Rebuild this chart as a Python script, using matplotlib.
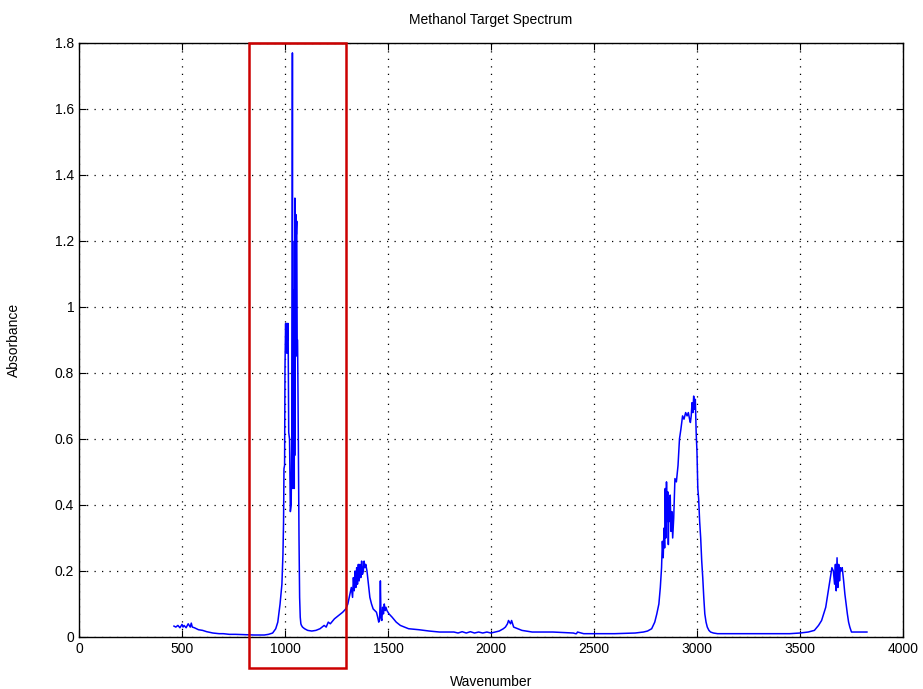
import numpy as np
import matplotlib.pyplot as plt
from matplotlib.patches import Rectangle

# Spectrum, region by region: (wavenumber, absorbance)
low_region = [
    (461, 0.033), (470, 0.030), (480, 0.035), (490, 0.028), (500, 0.038),
    (505, 0.030), (510, 0.035), (520, 0.028), (530, 0.040), (540, 0.030),
    (545, 0.042), (550, 0.030), (560, 0.028), (570, 0.025), (580, 0.022),
    (600, 0.020), (620, 0.016), (650, 0.012), (680, 0.010), (700, 0.010),
    (730, 0.008), (760, 0.008), (800, 0.007), (850, 0.006), (880, 0.006),
    (900, 0.006), (920, 0.008), (940, 0.012),
]
co_stretch = [
    (955, 0.025), (965, 0.045), (976, 0.10), (985, 0.16), (990, 0.25),
    (993, 0.35), (995, 0.51), (998, 0.52), (1000, 0.82), (1003, 0.95),
    (1005, 0.88), (1007, 0.95), (1009, 0.86), (1011, 0.95), (1013, 0.90),
    (1015, 0.95), (1018, 0.62), (1022, 0.60), (1026, 0.38), (1030, 0.40),
    (1033, 0.62), (1035, 1.10), (1036, 1.77), (1037, 0.80), (1038, 0.45),
    (1040, 1.00), (1041, 0.50), (1042, 1.05), (1043, 0.48), (1044, 0.98),
    (1045, 0.45), (1046, 1.20), (1047, 0.55), (1048, 1.33), (1049, 0.60),
    (1050, 1.25), (1052, 0.85), (1053, 1.28), (1055, 1.22), (1057, 1.26),
    (1059, 0.90), (1061, 0.90), (1063, 0.75), (1065, 0.55), (1068, 0.30),
    (1071, 0.12), (1074, 0.06), (1077, 0.04), (1080, 0.035), (1085, 0.030),
    (1095, 0.025), (1110, 0.020), (1130, 0.018),
]
ch_bend = [
    (1150, 0.020), (1170, 0.025), (1190, 0.035), (1200, 0.030), (1210, 0.045),
    (1220, 0.040), (1240, 0.055), (1260, 0.065), (1280, 0.075), (1295, 0.085),
    (1305, 0.10), (1315, 0.13), (1322, 0.15), (1328, 0.12), (1332, 0.18),
    (1336, 0.14), (1340, 0.20), (1344, 0.15), (1348, 0.21), (1352, 0.16),
    (1356, 0.22), (1360, 0.17), (1364, 0.22), (1368, 0.18), (1372, 0.23),
    (1376, 0.19), (1380, 0.20), (1384, 0.23), (1388, 0.21), (1392, 0.22),
    (1398, 0.20), (1405, 0.16), (1412, 0.12), (1420, 0.10), (1428, 0.085),
    (1436, 0.08), (1444, 0.075), (1450, 0.06), (1455, 0.045), (1459, 0.05),
    (1461, 0.09), (1463, 0.17), (1466, 0.06), (1470, 0.05), (1474, 0.09),
    (1478, 0.07), (1482, 0.10), (1486, 0.08), (1490, 0.09), (1495, 0.08),
    (1505, 0.07), (1520, 0.06), (1540, 0.045), (1560, 0.035), (1600, 0.025),
]
mid_region = [
    (1650, 0.022), (1700, 0.018), (1750, 0.015), (1800, 0.015), (1820, 0.015),
    (1840, 0.012), (1860, 0.016), (1880, 0.012), (1900, 0.016), (1920, 0.012),
    (1940, 0.015), (1960, 0.012), (1980, 0.015), (2000, 0.012), (2020, 0.015),
    (2040, 0.018), (2060, 0.025), (2070, 0.030), (2075, 0.035), (2080, 0.040),
    (2085, 0.050), (2090, 0.045), (2095, 0.040), (2100, 0.050), (2110, 0.030),
    (2150, 0.020), (2200, 0.015), (2300, 0.015), (2400, 0.012), (2410, 0.010),
    (2415, 0.010), (2420, 0.015), (2450, 0.010), (2500, 0.010), (2600, 0.010),
    (2700, 0.012), (2740, 0.015),
]
ch_stretch = [
    (2760, 0.018), (2780, 0.025), (2795, 0.045), (2805, 0.07), (2815, 0.10),
    (2822, 0.15), (2828, 0.21), (2832, 0.29), (2836, 0.24), (2840, 0.33),
    (2843, 0.27), (2846, 0.45), (2849, 0.30), (2852, 0.47), (2855, 0.35),
    (2858, 0.44), (2861, 0.28), (2864, 0.42), (2867, 0.35), (2870, 0.43),
    (2874, 0.32), (2878, 0.38), (2882, 0.30), (2887, 0.36), (2893, 0.48),
    (2900, 0.47), (2908, 0.52), (2915, 0.60), (2922, 0.63), (2930, 0.67),
    (2937, 0.66), (2945, 0.68), (2952, 0.67), (2958, 0.68), (2964, 0.66),
    (2968, 0.65), (2972, 0.67), (2976, 0.71), (2980, 0.68), (2984, 0.73),
    (2988, 0.69), (2992, 0.72), (2996, 0.62), (3000, 0.56), (3004, 0.45),
    (3008, 0.42), (3013, 0.35), (3018, 0.30), (3023, 0.23), (3028, 0.18),
    (3033, 0.12), (3038, 0.07), (3044, 0.045), (3050, 0.03), (3058, 0.02),
    (3066, 0.015), (3080, 0.012), (3100, 0.010),
]
oh_stretch = [
    (3200, 0.010), (3300, 0.010), (3400, 0.010), (3450, 0.010), (3500, 0.012),
    (3540, 0.015), (3570, 0.020), (3590, 0.035), (3605, 0.05), (3615, 0.07),
    (3625, 0.09), (3635, 0.13), (3645, 0.17), (3655, 0.21), (3662, 0.20),
    (3668, 0.16), (3672, 0.22), (3676, 0.14), (3680, 0.24), (3684, 0.15),
    (3688, 0.22), (3692, 0.17), (3696, 0.21), (3700, 0.20), (3705, 0.21),
    (3712, 0.17), (3718, 0.13), (3724, 0.10), (3730, 0.07), (3736, 0.045),
    (3742, 0.03), (3750, 0.015), (3760, 0.015), (3790, 0.015), (3825, 0.015),
]

title = "Methanol Target Spectrum"
xlabel = "Wavenumber"
ylabel = "Absorbance"
box_x = [825, 1296]
box_y = [-0.094, 1.8]

spectrum = low_region + co_stretch + ch_bend + mid_region + ch_stretch + oh_stretch
wavenumber = [p[0] for p in spectrum]
absorbance = [p[1] for p in spectrum]

plt.rcParams['font.family'] = ['Liberation Sans', 'DejaVu Sans']

fig = plt.figure(figsize=(9.23, 6.89), dpi=100)
ax = fig.add_axes([0.0856, 0.0755, 0.8927, 0.8621])

ax.plot(wavenumber, absorbance, color="#0000ff", lw=1.1)

ax.set_xlim(0, 4000)
ax.set_ylim(0, 1.8)
ax.set_xticks(np.arange(0, 4001, 500))
ax.set_yticks([0, 0.2, 0.4, 0.6, 0.8, 1, 1.2, 1.4, 1.6, 1.8])
ax.set_yticklabels(["0", "0.2", "0.4", "0.6", "0.8", "1", "1.2", "1.4", "1.6", "1.8"])
ax.grid(True, color="k", linestyle=(0, (1, 5)), linewidth=0.9)
ax.tick_params(direction="in", top=True, right=True, length=5, labelsize=10)
for s in ax.spines.values():
    s.set_linewidth(1.0)

ax.set_title(title, fontsize=10, pad=14)
ax.set_xlabel(xlabel, fontsize=10, labelpad=14)
ax.set_ylabel(ylabel, fontsize=10, labelpad=24)

rect = Rectangle((box_x[0], box_y[0]), box_x[1] - box_x[0], box_y[1] - box_y[0],
                 fill=False, edgecolor="#cc0000", linewidth=1.8, clip_on=False, zorder=5)
ax.add_patch(rect)

fig.savefig("out.png", dpi=100)
